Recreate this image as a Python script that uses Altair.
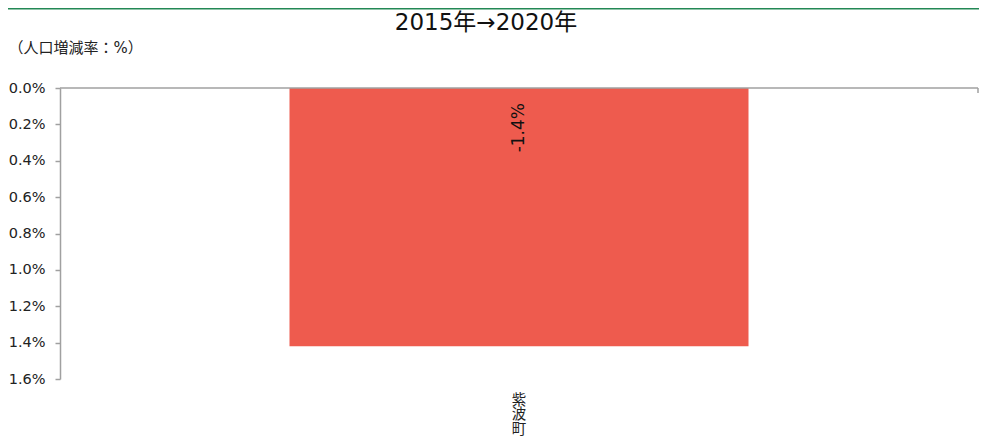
import altair as alt
import pandas as pd

# data
categories = ["紫波町"]
rates = [-1.42]  # population change rate 2015→2020 (%)
y_ticks = [0.0, -0.2, -0.4, -0.6, -0.8, -1.0, -1.2, -1.4, -1.6]
title_text = "2015年→2020年"

df = pd.DataFrame({"area": categories, "rate": rates})
df["label"] = [f"{v:.1f}%" for v in rates]

W = 918
H = 291
FONT = "DejaVu Sans, Noto Sans CJK JP"

x_scale = alt.Scale(paddingInner=0, paddingOuter=0.5)
x_axis = alt.Axis(
    title=None, orient="bottom", domain=False, ticks=False, grid=False, labelAngle=0,
    labelExpr="split(datum.label, '')", labelFontSize=14.5, labelLineHeight=14.5,
    labelPadding=14, labelBaseline="top", labelColor="#222", labelFont=FONT,
    labelOverlap=False, labelBound=False,
)
y_scale = alt.Scale(domain=[-1.6, 0], nice=False)
y_axis = alt.Axis(
    values=y_ticks, grid=False, labelOverlap=False, labelBound=False,
    labelFlush=False,
    labelExpr="format(abs(datum.value), '.1f') + '%'",
    labelFontSize=14.5, labelColor="#222", labelFont=FONT, labelPadding=10,
    tickSize=5, tickColor="#A0A0A0", tickWidth=1.5,
    domainColor="#A0A0A0", domainWidth=1.5,
    title="（人口増減率：%）", titleAngle=0, titleAlign="left",
    titleBaseline="middle", titleX=-52, titleY=-41, titleFontSize=15,
    titleFontWeight="normal", titleColor="#222", titleFont=FONT,
)

bars = alt.Chart(df).mark_bar(color="#EE5B4E").encode(
    x=alt.X("area:N", scale=x_scale, axis=x_axis),
    y=alt.Y("rate:Q", scale=y_scale, axis=y_axis),
)

labels = alt.Chart(df).mark_text(
    angle=270, align="right", baseline="middle", dx=-15, fontSize=17,
    color="#111", font=FONT,
).encode(
    x=alt.X("area:N", scale=x_scale, axis=x_axis),
    y=alt.Y(datum=0, scale=y_scale, axis=y_axis),
    text="label:N",
)

zero_line = alt.Chart(df).mark_rule(color="#A0A0A0", strokeWidth=1.5).encode(
    y=alt.Y(datum=0, scale=y_scale, axis=y_axis), x=alt.value(0), x2=alt.value(W)
)
end_tick = alt.Chart(df).mark_rule(color="#A0A0A0", strokeWidth=1.5).encode(
    x=alt.value(W), y=alt.Y(datum=0, scale=y_scale, axis=y_axis), y2=alt.value(5)
)
green = alt.Chart(df).mark_rule(color="#238855", strokeWidth=2).encode(
    x=alt.value(-52), x2=alt.value(W + 1), y=alt.value(-79.5)
)
title = alt.Chart(pd.DataFrame({"t": [title_text]})).mark_text(
    fontSize=23, font=FONT, color="#111", align="center", baseline="alphabetic",
).encode(x=alt.value(426), y=alt.value(-58), text="t:N")

chart = (
    alt.layer(bars, zero_line, end_tick, labels, green, title)
    .properties(
        width=W, height=H,
        background="white",
        autosize=alt.AutoSizeParams(type="none"),
        padding={"left": 52, "top": 80, "right": 1, "bottom": 59},
    )
    .configure_view(strokeWidth=0, stroke="transparent")
    .configure_axis(grid=False)
)

chart.save("out.html", embed_options={"renderer": "svg", "actions": False})
